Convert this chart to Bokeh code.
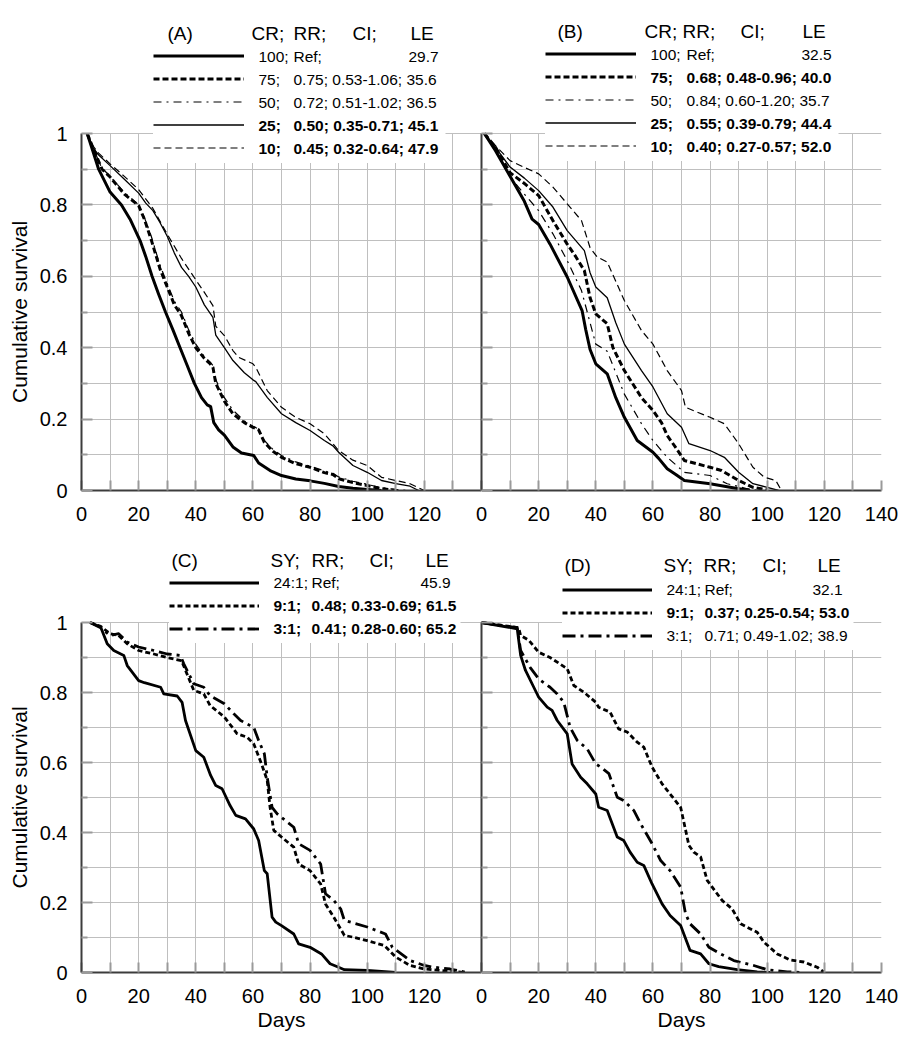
from bokeh.plotting import figure
from bokeh.layouts import column, row
from bokeh.models import (FixedTicker, CustomJSTickFormatter, Legend, LegendItem, Label,
                          Range1d, BoxAnnotation, Title)
from bokeh.core.properties import value
from bokeh.embed import file_html
from bokeh.resources import INLINE

FONT = "Liberation Sans"

# ---------------- ticks ----------------
days_ticks_short = [0, 20, 40, 60, 80, 100, 120]
days_ticks_full = [0, 20, 40, 60, 80, 100, 120, 140]
days_minor = [10, 30, 50, 70, 90, 110, 130, 140]
surv_ticks = [0, 0.2, 0.4, 0.6, 0.8, 1.0]
surv_minor = [0.1, 0.3, 0.5, 0.7, 0.9]

# ---------------- panel A (CR 100/75/50/25/10) ----------------
A100_x = [2, 4, 6, 10, 14, 17, 20.5, 22.5, 24.7, 27, 29.4, 32, 34.5, 37, 39.5, 42, 44, 45.2, 46.3, 48, 50, 53, 56, 60.3, 62, 66, 70, 75, 80, 85, 90, 95, 100, 105]
A100_y = [1, 0.95, 0.9, 0.836, 0.8, 0.76, 0.7, 0.655, 0.6, 0.55, 0.5, 0.45, 0.4, 0.35, 0.3, 0.26, 0.24, 0.235, 0.19, 0.17, 0.155, 0.122, 0.105, 0.098, 0.077, 0.056, 0.042, 0.032, 0.027, 0.02, 0.011, 0.006, 0.003, 0]
A75_x = [2, 4, 7.2, 10, 15, 20, 22, 24.5, 27.5, 30, 32.5, 35, 37.5, 40, 43, 45, 46, 47, 50, 53, 57, 60, 62, 64, 67, 70, 75, 80, 85, 88, 90, 95, 100, 105, 110]
A75_y = [1, 0.96, 0.9, 0.878, 0.83, 0.798, 0.76, 0.7, 0.62, 0.57, 0.52, 0.49, 0.44, 0.40, 0.37, 0.355, 0.345, 0.30, 0.25, 0.215, 0.19, 0.177, 0.17, 0.135, 0.11, 0.093, 0.075, 0.065, 0.05, 0.045, 0.033, 0.022, 0.014, 0.005, 0]
A50_x = [2, 4, 7, 10, 15, 20, 22, 24.5, 27.5, 30, 32.5, 35, 37.5, 40, 43, 45, 46, 47, 50, 53, 57, 60, 62, 64, 67, 70, 75, 80, 85, 88, 90, 95, 100, 105, 110, 114]
A50_y = [1, 0.96, 0.905, 0.88, 0.835, 0.8, 0.765, 0.71, 0.63, 0.58, 0.53, 0.5, 0.45, 0.41, 0.375, 0.36, 0.35, 0.31, 0.26, 0.225, 0.195, 0.18, 0.172, 0.14, 0.115, 0.098, 0.08, 0.068, 0.055, 0.048, 0.038, 0.026, 0.017, 0.008, 0.003, 0]
A25_x = [2, 4, 6, 10, 15, 20, 22.5, 25, 27.5, 30, 32.5, 35, 37.5, 40, 43, 46, 47, 50, 53, 57, 60, 61, 65, 70, 75, 80, 85, 88, 90, 95, 100, 105, 110, 115, 118]
A25_y = [1, 0.96, 0.94, 0.91, 0.872, 0.833, 0.805, 0.784, 0.75, 0.712, 0.665, 0.625, 0.6, 0.57, 0.52, 0.485, 0.435, 0.40, 0.364, 0.33, 0.31, 0.305, 0.261, 0.215, 0.19, 0.168, 0.14, 0.125, 0.107, 0.07, 0.051, 0.028, 0.019, 0.012, 0]
A10_x = [2, 4, 6, 10, 15, 20, 25, 30, 35, 40, 43, 46, 47, 50, 53, 55, 60, 61, 65, 70, 75, 80, 85, 88, 90, 95, 100, 105, 110, 115, 120]
A10_y = [1, 0.965, 0.945, 0.915, 0.88, 0.843, 0.79, 0.718, 0.65, 0.59, 0.555, 0.518, 0.46, 0.434, 0.392, 0.373, 0.355, 0.345, 0.28, 0.233, 0.205, 0.187, 0.159, 0.131, 0.112, 0.085, 0.07, 0.037, 0.028, 0.019, 0]

# ---------------- panel B ----------------
B100_x = [1, 4.9, 10, 15, 17.7, 20, 24, 30, 35.2, 36.5, 38, 40, 44, 47, 50, 54.5, 60, 62, 65, 68, 71, 80, 90, 94]
B100_y = [1, 0.952, 0.88, 0.81, 0.76, 0.745, 0.69, 0.598, 0.504, 0.45, 0.395, 0.355, 0.327, 0.26, 0.205, 0.14, 0.107, 0.09, 0.061, 0.045, 0.028, 0.019, 0.005, 0]
B75_x = [1, 5, 10, 15, 20, 25, 30, 33, 36, 38, 40, 44, 46, 50, 56, 60, 63, 65, 68, 71, 80, 84, 90, 95, 100]
B75_y = [1, 0.96, 0.89, 0.86, 0.826, 0.756, 0.69, 0.655, 0.616, 0.54, 0.495, 0.467, 0.40, 0.336, 0.26, 0.224, 0.19, 0.154, 0.12, 0.084, 0.065, 0.056, 0.028, 0.009, 0.002]
B50_x = [1, 5, 10, 15, 20, 25, 30, 35, 38, 40, 44, 47, 50, 56, 60, 65, 71, 80, 86, 93, 97]
B50_y = [1, 0.955, 0.878, 0.83, 0.784, 0.719, 0.644, 0.56, 0.47, 0.41, 0.39, 0.33, 0.27, 0.187, 0.14, 0.093, 0.051, 0.042, 0.019, 0.005, 0]
B25_x = [1, 5, 10, 15, 20, 25, 30, 36, 38, 40, 44, 47, 50, 56, 60, 65, 70, 72.6, 80, 85, 90, 95, 100, 104]
B25_y = [1, 0.96, 0.906, 0.875, 0.84, 0.794, 0.728, 0.672, 0.61, 0.57, 0.54, 0.47, 0.41, 0.336, 0.29, 0.215, 0.177, 0.131, 0.112, 0.093, 0.051, 0.019, 0.009, 0]
B10_x = [1, 5, 10, 15, 20, 25, 30, 35, 38, 40.5, 44, 50, 56, 60, 65, 70, 71.4, 80, 85, 90, 95, 99, 103, 105]
B10_y = [1, 0.965, 0.924, 0.905, 0.887, 0.85, 0.803, 0.756, 0.68, 0.654, 0.64, 0.532, 0.448, 0.41, 0.336, 0.28, 0.233, 0.205, 0.187, 0.131, 0.065, 0.037, 0.028, 0]

# ---------------- panel C (SY 24:1 / 9:1 / 3:1) ----------------
C24_x = [3, 6.7, 9, 11.3, 14.8, 16, 20, 22, 27.7, 28.8, 33.5, 35.2, 36.4, 40, 42.8, 45.2, 47, 49.2, 52, 54, 57.4, 60.3, 62, 64, 65, 66.7, 68, 70, 74.3, 76, 80, 84, 87, 90, 92, 100, 110]
C24_y = [1, 0.987, 0.939, 0.92, 0.906, 0.877, 0.834, 0.828, 0.815, 0.796, 0.79, 0.772, 0.72, 0.634, 0.615, 0.563, 0.534, 0.525, 0.477, 0.449, 0.439, 0.41, 0.377, 0.291, 0.282, 0.158, 0.144, 0.134, 0.11, 0.082, 0.072, 0.053, 0.025, 0.015, 0.008, 0.006, 0]
C9_x = [3, 6.7, 10, 13, 16, 20, 25.3, 30, 35, 39.3, 42.8, 45, 50, 54.5, 58, 60.3, 63, 65, 66, 67.3, 70, 74.3, 76, 80, 83.7, 85.4, 88.3, 92, 95, 100, 106, 110, 115, 120, 125.7, 134]
C9_y = [1, 0.989, 0.968, 0.963, 0.939, 0.92, 0.91, 0.90, 0.891, 0.806, 0.796, 0.763, 0.73, 0.682, 0.672, 0.653, 0.596, 0.549, 0.472, 0.406, 0.387, 0.358, 0.31, 0.291, 0.253, 0.196, 0.158, 0.106, 0.101, 0.091, 0.077, 0.044, 0.02, 0.01, 0.006, 0]
C3_x = [3, 6.7, 10, 13, 16, 20, 25.3, 30, 34.6, 35.8, 39.3, 42.8, 45, 50, 53.3, 55.7, 60.3, 62, 64, 65, 66.7, 68.5, 74.3, 76, 80, 83.7, 85.4, 88.3, 90.7, 92, 100, 106.4, 108.8, 115, 120, 123.3, 129, 135]
C3_y = [1, 0.985, 0.963, 0.968, 0.944, 0.93, 0.92, 0.91, 0.906, 0.882, 0.825, 0.815, 0.791, 0.768, 0.739, 0.72, 0.70, 0.663, 0.625, 0.558, 0.472, 0.453, 0.415, 0.368, 0.349, 0.31, 0.225, 0.206, 0.182, 0.149, 0.13, 0.11, 0.072, 0.034, 0.02, 0.015, 0.01, 0]

# ---------------- panel D ----------------
D24_x = [0, 12.5, 13.7, 15.4, 18.3, 20, 23, 24.7, 26.5, 30, 31.7, 34.7, 37, 40, 41, 44, 47.5, 49.8, 52, 54.5, 56.8, 59.7, 63.2, 66, 69.7, 73, 76.7, 79.6, 83, 89.5, 96.5, 101]
D24_y = [1, 0.982, 0.906, 0.863, 0.815, 0.787, 0.758, 0.749, 0.72, 0.682, 0.596, 0.558, 0.539, 0.51, 0.472, 0.463, 0.387, 0.377, 0.344, 0.315, 0.306, 0.253, 0.196, 0.163, 0.134, 0.063, 0.053, 0.025, 0.017, 0.008, 0.002, 0]
D9_x = [0, 13, 13.7, 16.6, 20, 24, 30, 32.3, 35.8, 40, 41, 45, 48, 51, 54.5, 56.8, 59.7, 63.2, 66, 69.7, 72.6, 74.3, 76.7, 79, 84.2, 87.7, 90.7, 96.5, 98.8, 103.5, 108, 112.8, 117.5, 120]
D9_y = [1, 0.985, 0.963, 0.949, 0.915, 0.90, 0.868, 0.82, 0.801, 0.772, 0.758, 0.744, 0.696, 0.687, 0.658, 0.644, 0.587, 0.539, 0.51, 0.472, 0.363, 0.344, 0.33, 0.263, 0.206, 0.182, 0.139, 0.115, 0.087, 0.053, 0.036, 0.03, 0.015, 0]
D3_x = [0, 12.5, 13.7, 17, 20, 24, 26.5, 28.8, 31, 33.5, 37, 40, 41.7, 44.6, 47.5, 49.8, 53.3, 55.7, 59.7, 62.7, 66, 69.7, 71.4, 73, 76.7, 79.6, 83.7, 88.3, 95.3, 100, 107, 112.8]
D3_y = [1, 0.985, 0.92, 0.872, 0.839, 0.815, 0.796, 0.772, 0.701, 0.663, 0.639, 0.596, 0.587, 0.568, 0.501, 0.491, 0.463, 0.425, 0.368, 0.32, 0.291, 0.244, 0.168, 0.139, 0.11, 0.072, 0.053, 0.034, 0.02, 0.008, 0.002, 0]

# ---------------- legend texts ----------------
A_head = ["(A)", "CR;", "RR;", "CI;", "LE"]
A_cr = ["100", "75", "50", "25", "10"]
A_rr = ["Ref", "0.75", "0.72", "0.50", "0.45"]
A_ci = ["", "0.53-1.06", "0.51-1.02", "0.35-0.71", "0.32-0.64"]
A_le = ["29.7", "35.6", "36.5", "45.1", "47.9"]
A_bold = [False, False, False, True, True]

B_head = ["(B)", "CR;", "RR;", "CI;", "LE"]
B_cr = ["100", "75", "50", "25", "10"]
B_rr = ["Ref", "0.68", "0.84", "0.55", "0.40"]
B_ci = ["", "0.48-0.96", "0.60-1.20", "0.39-0.79", "0.27-0.57"]
B_le = ["32.5", "40.0", "35.7", "44.4", "52.0"]
B_bold = [False, True, False, True, True]

C_head = ["(C)", "SY;", "RR;", "CI;", "LE"]
C_sy = ["24:1", "9:1", "3:1"]
C_rr = ["Ref", "0.48", "0.41"]
C_ci = ["", "0.33-0.69", "0.28-0.60"]
C_le = ["45.9", "61.5", "65.2"]
C_bold = [False, True, True]

D_head = ["(D)", "SY;", "RR;", "CI;", "LE"]
D_sy = ["24:1", "9:1", "3:1"]
D_rr = ["Ref", "0.37", "0.71"]
D_ci = ["", "0.25-0.54", "0.49-1.02"]
D_le = ["32.1", "53.0", "38.9"]
D_bold = [False, True, False]

Y_TITLE = "Cumulative survival"
X_TITLE = "Days"

# ---------------- styles ----------------
STYLE5 = [("solid", 3.0), ("6 3", 3.0), ("8 5 2 5", 1.2), ("solid", 1.3), ("7 4", 1.2)]
STYLE3 = [("solid", 2.8), ("5 3", 2.8), ("13 5 3 5", 2.8)]
AXIS_C = "#3c3c3c"
GRID_C = "#bfbfbf"
TICK_C = "#9a9a9a"
ROW_FS = "15.5px"
HEAD_FS = "19px"
Y_TITLE_HALF_LEN = 91   # half the drawn length of the y title at 21px

# page layout (px)
ROW1 = dict(y1=133, y0=490, top=14, fig_top=0, fig_bottom=535)
ROW2 = dict(y1=622, y0=972, top=545, fig_top=535, fig_bottom=1040)
PX_PER_DAY = 400 / 140


def make_fig(rowdef, left, right, xticks, ylabels, xtitle, ytitle, overlap):
    unit = rowdef["y0"] - rowdef["y1"]
    y_end = 1 + (rowdef["y1"] - rowdef["top"]) / unit
    p = figure(frame_width=400, frame_height=rowdef["y0"] - rowdef["top"],
               x_range=Range1d(0, 140), y_range=Range1d(0, y_end),
               min_border_left=left, min_border_right=right,
               min_border_top=rowdef["top"] - rowdef["fig_top"],
               min_border_bottom=rowdef["fig_bottom"] - rowdef["y0"],
               output_backend="svg", toolbar_location=None,
               outline_line_color=None)
    if overlap:
        p.margin = (0, 0, 0, -left)
        p.border_fill_color = None
    minor = [m for m in days_minor if m not in xticks]
    p.xaxis.ticker = FixedTicker(ticks=xticks, minor_ticks=minor)
    p.yaxis.ticker = FixedTicker(ticks=surv_ticks, minor_ticks=surv_minor)
    p.yaxis.bounds = (0, 1)
    for ax in (p.xaxis[0], p.yaxis[0]):
        ax.axis_line_color = AXIS_C
        ax.axis_line_width = 2
        ax.major_tick_out = 0
        ax.minor_tick_out = 0
        ax.major_tick_line_color = TICK_C
        ax.minor_tick_line_color = TICK_C
        ax.major_tick_line_width = 2
        ax.minor_tick_line_width = 2
        ax.major_label_text_font = FONT
        ax.major_label_text_font_size = "20px"
        ax.major_label_text_color = "black"
        ax.axis_label_text_font = FONT
        ax.axis_label_text_font_size = "21px"
        ax.axis_label_text_font_style = "normal"
        ax.axis_label_text_color = "black"
    p.xaxis.major_tick_in = 10
    p.xaxis.minor_tick_in = 10
    p.yaxis.major_tick_in = 11
    p.yaxis.minor_tick_in = 6
    p.xaxis.major_label_standoff = 16
    if xtitle:
        p.xaxis.axis_label = X_TITLE
        p.xaxis.axis_label_standoff = 2
    if ylabels:
        p.yaxis.formatter = CustomJSTickFormatter(
            code="return (tick === 0 || tick === 1) ? tick.toFixed(0) : tick.toFixed(1);")
        p.yaxis.major_label_standoff = 14
    else:
        p.yaxis.formatter = CustomJSTickFormatter(code="return '';")
        p.yaxis.major_label_standoff = 0
    if ytitle:
        # centred on the 0..1 survival span (the frame also holds the legend above it)
        axis_mid = (rowdef["y1"] + rowdef["y0"]) / 2
        off = rowdef["y0"] - axis_mid - Y_TITLE_HALF_LEN
        p.add_layout(Title(text=Y_TITLE, align="left", offset=off, vertical_align="top",
                           text_font=FONT, text_font_size="21px", text_font_style="normal",
                           text_color="black", standoff=8), "left")
    for g in (p.xgrid[0], p.ygrid[0]):
        g.grid_line_color = GRID_C
        g.minor_grid_line_color = GRID_C
        g.grid_line_width = 1
        g.minor_grid_line_width = 1
    try:
        p.xgrid[0].cross_bounds = (0, 1)
    except AttributeError:
        p.xgrid[0].visible = False
        allx = sorted(set(xticks + minor))
        p.segment(x0=allx, y0=[0] * len(allx), x1=allx, y1=[1] * len(allx),
                  line_color=GRID_C, line_width=1, level="underlay")
    return p


def add_curves(p, series, styles):
    rends = []
    for (xs, ys), (dash, lw) in zip(series, styles):
        r = p.line(xs, ys, line_color="black", line_width=lw, line_dash=dash, line_join="round")
        rends.append(r)
    return rends


def add_legend(p, rowdef, rends, lay, head, c1_txt, rr, ci, le, bold):
    fl, fb = lay["frame"]
    unit = rowdef["y0"] - rowdef["y1"]
    pad = 3
    gw = lay["glyph_w"]
    n = len(rends)
    box_left = lay["glyph_x0"] - pad
    box_top = lay["row_y0"] - 11.5 - pad
    box_bottom = box_top + 2 * pad + n * 23
    # white panel behind the whole legend block
    p.add_layout(BoxAnnotation(left=(box_left - fl) / PX_PER_DAY,
                               right=(lay["box_right"] - fl) / PX_PER_DAY,
                               bottom=(fb - box_bottom) / unit,
                               top=(fb - box_top + 30) / unit,
                               fill_color="white", fill_alpha=1.0, line_color=None))
    leg = Legend(items=[LegendItem(label=value(""), renderers=[r]) for r in rends],
                 location=(box_left - fl, fb - box_bottom + lay["dy"]),
                 glyph_width=gw, glyph_height=23, label_width=0, label_height=23,
                 label_standoff=0, padding=pad, spacing=0, margin=0,
                 border_line_color=None, background_fill_color="white",
                 background_fill_alpha=1.0, label_text_font_size="1px")
    p.add_layout(leg)

    def lab(txt, px, py, size, b):
        p.add_layout(Label(x=px - fl, y=fb - py, x_units="screen", y_units="screen",
                           text=txt, text_font=FONT, text_font_size=size,
                           text_font_style="bold" if b else "normal",
                           text_baseline="middle", text_align="left", text_color="black",
                           level="overlay"))

    for t, hx in zip(head, lay["head_x"]):
        lab(t, hx, lay["head_y"], HEAD_FS, False)
    for i in range(n):
        ry = lay["row_y0"] + i * 23
        lab(c1_txt[i] + ";", lay["c1"], ry, ROW_FS, bold[i])
        if ci[i] == "":
            lab(rr[i] + ";", lay["c2"], ry, ROW_FS, bold[i])
            lab(le[i], lay["c_le"], ry, ROW_FS, bold[i])
        else:
            lab(rr[i] + "; " + ci[i] + "; " + le[i], lay["c2"], ry, ROW_FS, bold[i])


LAY_A = dict(frame=(81, 490), glyph_x0=156, glyph_w=91, row_y0=56, box_right=445, head_y=33,
             head_x=[167, 251, 293, 352, 410], c1=258, c2=293, c_le=408, dy=4)
LAY_B = dict(frame=(481, 490), glyph_x0=548, glyph_w=91, row_y0=54, box_right=838, head_y=31,
             head_x=[557, 644, 682, 740, 802], c1=650, c2=686, c_le=801, dy=4)
LAY_C = dict(frame=(81, 972), glyph_x0=172, glyph_w=90, row_y0=582, box_right=460, head_y=560,
             head_x=[171, 270, 311, 369, 425], c1=273, c2=311, c_le=420, dy=3)
LAY_D = dict(frame=(481, 972), glyph_x0=565, glyph_w=90, row_y0=589, box_right=853, head_y=565,
             head_x=[564, 663, 703, 762, 817], c1=666, c2=704, c_le=812, dy=3)

pA = make_fig(ROW1, 81, 0, days_ticks_short, True, False, True, False)
rA = add_curves(pA, [(A100_x, A100_y), (A75_x, A75_y), (A50_x, A50_y), (A25_x, A25_y), (A10_x, A10_y)], STYLE5)
add_legend(pA, ROW1, rA, LAY_A, A_head, A_cr, A_rr, A_ci, A_le, A_bold)

pB = make_fig(ROW1, 10, 23, days_ticks_full, False, False, False, True)
rB = add_curves(pB, [(B100_x, B100_y), (B75_x, B75_y), (B50_x, B50_y), (B25_x, B25_y), (B10_x, B10_y)], STYLE5)
add_legend(pB, ROW1, rB, LAY_B, B_head, B_cr, B_rr, B_ci, B_le, B_bold)

pC = make_fig(ROW2, 81, 0, days_ticks_short, True, True, True, False)
rC = add_curves(pC, [(C24_x, C24_y), (C9_x, C9_y), (C3_x, C3_y)], STYLE3)
add_legend(pC, ROW2, rC, LAY_C, C_head, C_sy, C_rr, C_ci, C_le, C_bold)

pD = make_fig(ROW2, 10, 23, days_ticks_full, False, True, False, True)
rD = add_curves(pD, [(D24_x, D24_y), (D9_x, D9_y), (D3_x, D3_y)], STYLE3)
add_legend(pD, ROW2, rD, LAY_D, D_head, D_sy, D_rr, D_ci, D_le, D_bold)

layout = column(row(pA, pB), row(pC, pD))
open("out.html", "w").write(file_html(layout, INLINE))
